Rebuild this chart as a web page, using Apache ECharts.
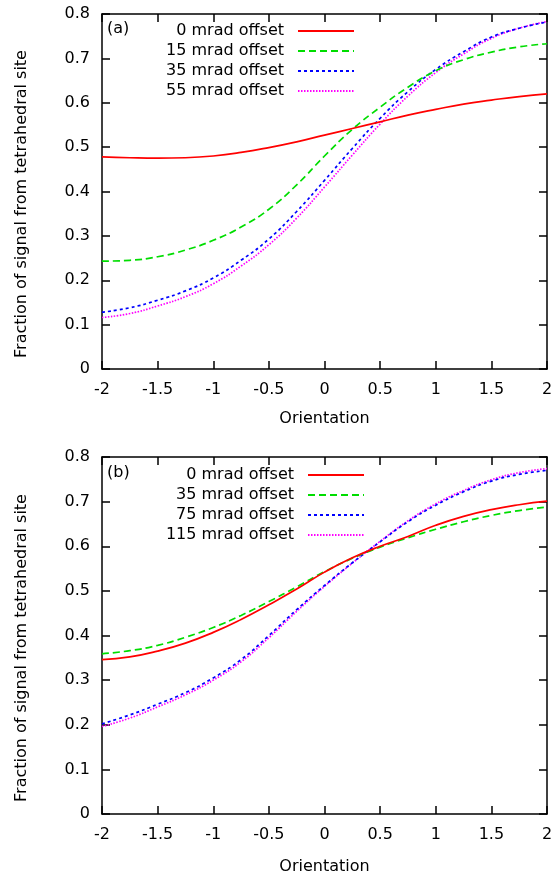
<!DOCTYPE html>
<html>
<head>
<meta charset="utf-8">
<script src="https://cdn.jsdelivr.net/npm/echarts@6/dist/echarts.min.js"></script>
<style>
html,body{margin:0;padding:0;background:#fff;}
#chart{width:557px;height:876px;}
</style>
</head>
<body>
<div id="chart"></div>
<script>
// ---- data ----
const orientation = [-2, -1.75, -1.5, -1.25, -1, -0.75, -0.5, -0.25, 0, 0.25, 0.5, 0.75, 1, 1.25, 1.5, 1.75, 2];
const yTicks = ['0', '0.1', '0.2', '0.3', '0.4', '0.5', '0.6', '0.7', '0.8'];
const xTicks = ['-2', '-1.5', '-1', '-0.5', '0', '0.5', '1', '1.5', '2'];

// panel (a)
const aNames = ['0 mrad offset', '15 mrad offset', '35 mrad offset', '55 mrad offset'];
const a0 = [0.478, 0.476, 0.475, 0.476, 0.480, 0.488, 0.499, 0.512, 0.527, 0.542, 0.557, 0.572, 0.585, 0.597, 0.606, 0.614, 0.620];
const a15 = [0.243, 0.245, 0.253, 0.268, 0.290, 0.320, 0.360, 0.415, 0.480, 0.540, 0.590, 0.635, 0.672, 0.697, 0.714, 0.726, 0.733];
const a35 = [0.128, 0.138, 0.155, 0.176, 0.205, 0.245, 0.293, 0.355, 0.425, 0.497, 0.565, 0.625, 0.675, 0.715, 0.748, 0.768, 0.782];
const a55 = [0.116, 0.125, 0.142, 0.163, 0.192, 0.232, 0.280, 0.340, 0.410, 0.482, 0.552, 0.615, 0.668, 0.710, 0.745, 0.768, 0.783];

// panel (b)
const bNames = ['0 mrad offset', '35 mrad offset', '75 mrad offset', '115 mrad offset'];
const b0 = [0.346, 0.352, 0.365, 0.383, 0.407, 0.436, 0.469, 0.504, 0.542, 0.574, 0.600, 0.622, 0.647, 0.667, 0.682, 0.693, 0.701];
const b35 = [0.359, 0.366, 0.378, 0.396, 0.418, 0.445, 0.476, 0.509, 0.543, 0.573, 0.598, 0.619, 0.638, 0.655, 0.669, 0.680, 0.688];
const b75 = [0.202, 0.222, 0.246, 0.272, 0.305, 0.346, 0.400, 0.458, 0.512, 0.563, 0.610, 0.655, 0.692, 0.722, 0.746, 0.761, 0.770];
const b115 = [0.196, 0.215, 0.240, 0.267, 0.300, 0.341, 0.395, 0.454, 0.510, 0.562, 0.611, 0.657, 0.695, 0.725, 0.749, 0.765, 0.774];

// ---- styles ----
const FONT = 'DejaVu Sans';
const colors = ['#ff0000', '#00dd00', '#0000ff', '#ff00ff'];
const dashes = ['solid', [7, 4], [3, 3], [1.5, 1.5]];

const chart = echarts.init(document.getElementById('chart'), null, {renderer: 'canvas'});

const axisLineStyle = {color: '#000', width: 1.5};
function xAx(grid, pos, withLabel, gap) {
  return {
    gridIndex: grid, type: 'value', min: -2, max: 2, interval: 0.5, position: pos,
    name: withLabel ? 'Orientation' : '', nameLocation: 'middle', nameGap: gap || 42,
    nameTextStyle: {fontFamily: FONT, fontSize: 16, color: '#000'},
    axisLine: {onZero: false, lineStyle: axisLineStyle},
    axisTick: {inside: true, length: 8, lineStyle: axisLineStyle},
    axisLabel: {show: withLabel, margin: 13, fontFamily: FONT, fontSize: 16, color: '#000',
      formatter: v => xTicks[Math.round((v + 2) / 0.5)]},
    splitLine: {show: false}
  };
}
function yAx(grid, pos, withLabel) {
  return {
    gridIndex: grid, type: 'value', min: 0, max: 0.8, interval: 0.1, position: pos,
    name: withLabel ? 'Fraction of signal from tetrahedral site' : '', nameLocation: 'middle', nameGap: 72,
    nameTextStyle: {fontFamily: FONT, fontSize: 16, color: '#000', padding: [0, 25, 0, 0]},
    axisLine: {onZero: false, lineStyle: axisLineStyle},
    axisTick: {inside: true, length: 8, lineStyle: axisLineStyle},
    axisLabel: {show: withLabel, margin: 12, fontFamily: FONT, fontSize: 16, color: '#000',
      formatter: v => yTicks[Math.round(v * 10)]},
    splitLine: {show: false}
  };
}

function mkSeries(prefix, names, arrs, xi, yi) {
  return arrs.map((arr, k) => ({
    name: prefix + names[k],
    type: 'line',
    xAxisIndex: xi, yAxisIndex: yi,
    smooth: true,
    symbol: 'none',
    showSymbol: false,
    color: colors[k],
    lineStyle: {color: colors[k], width: 1.7, type: dashes[k]},
    data: orientation.map((x, i) => [x, arr[i]]),
    z: 10 - k
  }));
}

function mkLegend(prefix, names, right, top) {
  return {
    data: names.map(n => prefix + n),
    orient: 'vertical',
    align: 'right',
    right: right, top: top,
    padding: 0,
    itemWidth: 56, itemHeight: 16, itemGap: 4,
    selectedMode: false,
    itemStyle: {opacity: 0, borderWidth: 0},
    formatter: n => n.slice(prefix.length),
    textStyle: {fontFamily: FONT, fontSize: 16, color: '#000', lineHeight: 16, padding: [0, 9, 0, 0]}
  };
}

const option = {
  animation: false,
  backgroundColor: '#fff',
  grid: [
    {left: 102, top: 14, width: 445, height: 355},
    {left: 102, top: 457, width: 445, height: 357}
  ],
  xAxis: [xAx(0, 'bottom', true, 42), xAx(0, 'top', false), xAx(1, 'bottom', true, 45), xAx(1, 'top', false)],
  yAxis: [yAx(0, 'left', true), yAx(0, 'right', false), yAx(1, 'left', true), yAx(1, 'right', false)],
  legend: [
    mkLegend('a:', aNames, 202, 23),
    mkLegend('b:', bNames, 192, 467)
  ],
  graphic: [
    {type: 'text', left: 107, top: 21, style: {text: '(a)', fontFamily: FONT, fontSize: 16, fill: '#000'}},
    {type: 'text', left: 107, top: 465, style: {text: '(b)', fontFamily: FONT, fontSize: 16, fill: '#000'}}
  ],
  series: [].concat(
    mkSeries('a:', aNames, [a0, a15, a35, a55], 0, 0),
    mkSeries('b:', bNames, [b0, b35, b75, b115], 2, 2)
  )
};
chart.setOption(option);
</script>
</body>
</html>
